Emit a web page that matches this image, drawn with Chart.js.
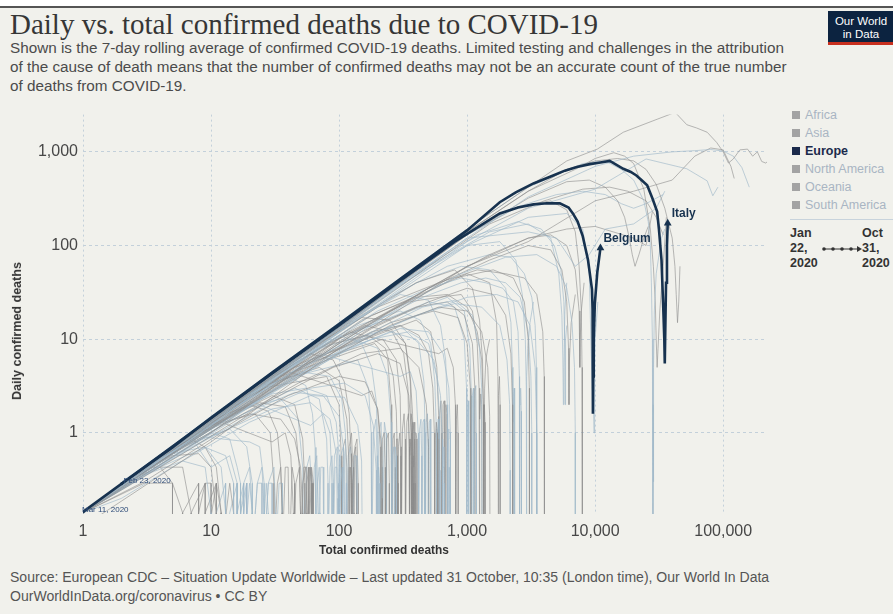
<!DOCTYPE html>
<html>
<head>
<meta charset="utf-8">
<script src="https://cdn.jsdelivr.net/npm/chart.js@4.4.1/dist/chart.umd.min.js"></script>
<style>
  body { margin: 0; width: 893px; height: 614px; background: #f1f1ec; position: relative; overflow: hidden;
         font-family: "Liberation Sans Narrow", "Liberation Sans", Arial, sans-serif; color: #444; }
  .abs { position: absolute; white-space: nowrap; }
  #topWhite { left: 0; top: 0; width: 893px; height: 6px; background: #fff; }
  #topLine { left: 0; top: 6px; width: 893px; height: 2px; background: #555; }
  #title { left: 10px; top: 6px; line-height: 36px; font-family: "Liberation Serif", "DejaVu Serif", serif; font-size: 28px; color: #363636; }
  .sub { left: 10px; font-size: 14px; line-height: 19px; color: #4b4b4b; }
  #logo { left: 828px; top: 11px; width: 66px; height: 34px; background: #0c2340; border-bottom: 3px solid #c8301f;
          color: #fff; font-size: 11.5px; line-height: 13px; text-align: center; padding-top: 4px; box-sizing: border-box; }
  #chartBox { left: 0; top: 100px; width: 780px; height: 460px; }
  #xTitle { top: 541px; line-height: 18px; font-weight: bold; font-size: 13px; color: #333; }
  #yTitle { line-height: 16px; font-weight: bold; font-size: 12px; color: #333; transform-origin: center center; }
  .leg { left: 792px; font-size: 12.5px; line-height: 18px; color: #a9b5c3; }
  .leg i { display: inline-block; width: 8px; height: 8px; background: #a3a3a3; margin-right: 5px; vertical-align: 0px; }
  .leg.on { color: #1b2a4b; font-weight: bold; }
  .leg.on i { background: #1b2a4b; }
  #sep { left: 790px; top: 219px; width: 103px; height: 1px; background: #c8d3dc; }
  .time { top: 226px; font-weight: bold; font-size: 12.5px; line-height: 15px; color: #333; }
  .foot { left: 10px; font-size: 13px; line-height: 19px; color: #555; }
</style>
</head>
<body>
<div id="topWhite" class="abs"></div>
<div id="topLine" class="abs"></div>
<div id="title" class="abs">Daily vs. total confirmed deaths due to COVID-19</div>
<div id="sub1" class="abs sub" style="top:38px">Shown is the 7-day rolling average of confirmed COVID-19 deaths. Limited testing and challenges in the attribution</div>
<div id="sub2" class="abs sub" style="top:57px">of the cause of death means that the number of confirmed deaths may not be an accurate count of the true number</div>
<div id="sub3" class="abs sub" style="top:76px">of deaths from COVID-19.</div>
<div id="logo" class="abs">Our World<br>in Data</div>

<div id="chartBox" class="abs"><canvas id="myChart"></canvas></div>
<div id="xTitle" class="abs">Total confirmed deaths</div>
<div id="yTitle" class="abs">Daily confirmed deaths</div>

<div class="abs leg" style="top:106px"><i></i>Africa</div>
<div class="abs leg" style="top:124px"><i></i>Asia</div>
<div class="abs leg on" style="top:142px"><i></i>Europe</div>
<div class="abs leg" style="top:160px"><i></i>North America</div>
<div class="abs leg" style="top:178px"><i></i>Oceania</div>
<div class="abs leg" style="top:196px"><i></i>South America</div>
<div id="sep" class="abs"></div>
<div class="abs time" style="left:790px">Jan<br>22,<br>2020</div>
<svg class="abs" style="left:822px;top:244px" width="42" height="10">
  <line x1="1" y1="5" x2="37" y2="5" stroke="#333" stroke-width="1"/>
  <circle cx="2" cy="5" r="1.8" fill="#333"/><circle cx="11" cy="5" r="1.8" fill="#333"/>
  <circle cx="20" cy="5" r="1.8" fill="#333"/><circle cx="29" cy="5" r="1.8" fill="#333"/>
  <path d="M35 2 L40 5 L35 8 Z" fill="#333"/>
</svg>
<div class="abs time" style="left:862px">Oct<br>31,<br>2020</div>

<div id="foot1" class="abs foot" style="top:568px">Source: European CDC – Situation Update Worldwide – Last updated 31 October, 10:35 (London time), Our World In Data</div>
<div id="foot2" class="abs foot" style="top:587px">OurWorldInData.org/coronavirus • CC BY</div>

<script>
// tick values
const xTicks = [1, 10, 100, 1000, 10000, 100000];
const yTicks = [1, 10, 100, 1000];

// highlighted countries: [total deaths, daily deaths (7-day avg)]
const belgium = [[1,0.143],[3,0.43],[10,1.43],[30,4.3],[100,14],[300,42],[800,110],[1800,220],[2500,255],[3300,275],[4200,283],[5300,282],[6200,255],[6700,220],[7300,180],[8000,126],[8800,70],[9450,34],[9550,21],[9600,6],[9620,1.6],[9660,4],[9750,10],[9950,24],[10400,52],[11000,94]];
const italy = [[2,0.286],[5,0.7],[10,1.45],[30,4.4],[100,14.5],[300,44],[1000,145],[1800,290],[2400,370],[3300,460],[4700,560],[5800,630],[7200,690],[9100,740],[11000,770],[13000,800],[16600,660],[19000,610],[21000,560],[23000,500],[25500,440],[28000,320],[30500,230],[31500,150],[33000,70],[34000,23],[34700,10],[35000,5.5],[35300,12],[35800,40],[36400,100],[36900,173]];

// other large countries (grey)
const unitedStates = [[1,0.14],[10,1.4],[100,14],[1000,150],[3000,420],[6000,800],[10400,1070],[16600,1620],[30500,2230],[42200,2640],[52000,1950],[62000,1800],[75000,1620],[89000,1260],[100000,1000],[110000,760],[120000,840],[135000,1050],[155000,1070],[170000,900],[185000,1000],[200000,790],[215000,760],[230000,820]];
const brazil = [[1,0.14],[10,1.3],[100,13],[1000,120],[3000,330],[10000,700],[20000,900],[40000,1000],[60000,1030],[80000,1060],[100000,1020],[120000,900],[140000,680],[160000,420]];
const india = [[1,0.1],[10,0.8],[100,8],[1000,60],[3000,110],[10000,300],[20000,380],[40000,500],[60000,900],[80000,1100],[100000,1050],[115000,700],[122000,520]];
const mexico = [[1,0.14],[10,1.2],[100,12],[1000,110],[3000,250],[10000,400],[25000,840],[52000,660],[75000,490],[83000,340],[91000,420]];
const unitedKingdom = [[1,0.14],[10,1.4],[100,14],[1000,140],[3000,380],[6000,650],[10000,800],[15000,850],[20000,800],[25000,650],[30000,450],[35000,250],[40000,120],[42000,60],[43000,30],[44000,15],[45000,25],[46000,60]];
const spain = [[1,0.14],[10,1.5],[100,15],[1000,150],[3000,420],[8000,750],[12000,800],[16000,650],[20000,500],[24000,300],[26000,180],[27000,100],[27500,40],[28000,10],[28300,1],[28300,0.05],[28400,2],[28500,0.3],[28700,5],[29000,20],[30000,50],[33000,120],[35000,150]];
const france = [[1,0.14],[10,1.3],[100,13],[1000,140],[3000,380],[7000,650],[10000,850],[14000,980],[17000,900],[20000,750],[24000,400],[27000,150],[28500,60],[29500,25],[30000,10],[30500,5],[31000,8],[32000,20],[34000,60],[36000,200]];
const iran = [[2,0.3],[10,1.4],[100,14],[1000,120],[3000,140],[5000,120],[7000,60],[9000,80],[12000,150],[20000,170],[30000,250],[35000,380]];
const russia = [[1,0.14],[10,1],[100,10],[1000,60],[3000,120],[6000,150],[10000,160],[20000,120],[25000,100],[28000,230]];
const germany = [[1,0.14],[10,1.2],[100,12],[1000,100],[3000,200],[6000,220],[8000,150],[9000,50],[9300,8],[9500,3],[9700,2],[9800,1],[9900,5],[10000,10],[10500,25]];
const peru = [[1,0.14],[150,20],[1000,130],[3000,320],[6000,480],[9000,500],[12000,420],[15000,300],[17000,200],[18500,120],[19500,80],[20500,60],[22000,80],[24000,120],[26000,160]];
const colombia = [[1,0.14],[120,16],[900,120],[2500,260],[5000,350],[8000,380],[12000,350],[16000,280],[20000,250],[25000,280],[30000,320],[34000,350]];
const argentina = [[1,0.14],[200,25],[1500,170],[4000,300],[8000,400],[13000,420],[18000,380],[25000,300],[30000,200],[32000,160],[34000,130]];

// medium countries fanning out under the diagonal (grey)
const mediumCountries = [
  [[1,0.14],[5,0.6],[20,2],[80,6],[250,14],[600,22],[1000,20],[1300,12],[1450,5],[1500,1.5],[1510,0.05]],
  [[1,0.14],[8,0.9],[40,3.5],[150,10],[400,18],[800,24],[1300,22],[1800,14],[2050,6],[2150,2],[2170,0.4],[2170,0.05]],
  [[1,0.14],[4,0.5],[15,1.4],[50,3.5],[150,7],[300,8],[420,5],[480,2],[500,0.7],[505,0.05]],
  [[2,0.29],[10,1.1],[50,4],[200,12],[500,20],[1000,28],[1700,30],[2500,25],[3100,14],[3400,5],[3500,1],[3500,0.05]],
  [[1,0.14],[6,0.6],[25,2],[90,5],[200,7],[300,5.5],[350,2.5],[370,0.9],[372,0.05]],
  [[1,0.14],[10,1],[60,5.5],[300,22],[900,50],[2000,75],[3500,80],[5000,60],[6000,35],[6600,15],[6900,5],[7000,1],[7000,0.05]],
  [[1,0.14],[3,0.3],[12,1],[40,2.5],[100,4],[160,3.5],[200,1.8],[215,0.7],[218,0.2],[218,0.05]],
  [[1,0.14],[7,0.8],[35,3.2],[160,11],[450,22],[800,26],[1100,18],[1250,8],[1300,3],[1310,0.05]],
  [[1,0.14],[15,1.6],[70,6],[250,15],[550,20],[850,17],[1000,9],[1060,3],[1070,0.6],[1070,0.05]],
  [[1,0.14],[2,0.2],[6,0.5],[20,1.3],[60,2.5],[110,2.4],[140,1.2],[150,0.5],[152,0.05]],
  [[1,0.14],[12,1.3],[100,9],[500,35],[1500,70],[3000,100],[4500,90],[5500,55],[6000,25],[6200,8],[6250,2],[6300,6],[6500,15],[7000,30]],
  [[1,0.14],[5,0.55],[30,2.7],[120,8],[300,13],[500,12],[650,7],[720,3],[740,1],[742,0.05]],
  [[1,0.14],[9,1],[45,4],[180,13],[500,25],[1000,35],[1600,30],[2000,18],[2200,7],[2260,2],[2270,0.05]],
  [[1,0.14],[3,0.35],[10,0.9],[30,1.8],[60,2.1],[85,1.4],[95,0.6],[98,0.2],[98,0.05]],
  [[1,0.14],[20,2.2],[120,11],[500,35],[1500,80],[3000,120],[4500,130],[6000,100],[7000,55],[7500,20],[7600,5],[7650,10],[7800,20],[8200,40]],
  [[1,0.14],[7,0.7],[25,1.8],[60,3],[110,3.4],[160,2.5],[185,1.2],[195,0.4],[196,0.05]],
  [[1,0.14],[40,4],[250,20],[800,45],[1600,55],[2300,45],[2800,25],[3000,10],[3060,3],[3070,0.05]],
  [[2,0.29],[14,1.5],[60,5],[180,10],[350,12],[500,9],[580,4],[610,1.5],[615,0.4],[615,0.05]],
  [[1,0.14],[30,3],[150,12],[400,22],[700,25],[950,18],[1100,9],[1150,3],[1160,0.05]],
  [[1,0.14],[4,0.45],[18,1.6],[45,2.7],[75,2.5],[100,1.5],[110,0.6],[112,0.05]],
  [[1,0.14],[2,0.29],[5,0.57],[8,0.6],[10,0.43],[11,0.14],[11,0.05]],
  [[1,0.14],[25,2.6],[150,13],[450,28],[900,40],[1400,45],[2000,40],[2600,28],[3000,12],[3150,4],[3200,1],[3200,0.05]]
];

// smaller countries with zero-death days (grey)
const smallCountries = [
  [[1,0.14],[2,0.29],[4,0.57],[7,0.86],[9,0.7],[11,0.43],[12,0.14],[12,0.05]],
  [[1,0.14],[3,0.43],[6,0.71],[10,1],[14,0.86],[16,0.43],[17,0.29],[17,0.05],[18,0.14],[19,0.29],[19,0.05]],
  [[1,0.14],[5,0.71],[12,1.5],[20,2],[28,1.7],[33,1],[35,0.43],[36,0.14],[36,0.05]],
  [[2,0.29],[8,1.1],[20,2.6],[40,4],[55,3.2],[62,1.6],[65,0.7],[66,0.29],[66,0.05],[68,0.29],[70,0.43],[71,0.14],[71,0.05]],
  [[1,0.14],[6,0.86],[25,3.3],[60,7],[90,6],[110,3.5],[120,1.6],[124,0.6],[125,0.14],[125,0.05],[127,0.29],[130,0.43],[131,0.14],[131,0.05]],
  [[1,0.14],[10,1.4],[40,5],[100,11],[150,9],[180,5],[195,2.2],[200,0.86],[202,0.29],[202,0.05],[205,0.43],[208,0.29],[208,0.05]],
  [[3,0.43],[15,2],[60,8],[150,17],[250,16],[330,9],[360,4],[375,1.6],[380,0.57],[381,0.05],[384,0.43],[390,0.86],[393,0.29],[393,0.05]],
  [[1,0.14],[20,2.8],[100,13],[300,30],[500,26],[620,14],[680,6],[700,2],[705,0.7],[706,0.05],[712,0.86],[720,1.1],[724,0.43],[725,0.05]],
  [[1,0.14],[30,4],[150,18],[400,40],[800,55],[1100,35],[1250,16],[1320,6],[1340,2],[1345,0.43],[1345,0.05],[1352,1],[1365,2],[1380,1.3],[1385,0.05]],
  [[2,0.29],[50,6.5],[300,38],[1000,100],[1800,110],[2400,70],[2700,30],[2850,10],[2900,3],[2910,0.05],[2930,4],[2980,8],[3100,15],[3300,25]],
  [[1,0.14],[7,1],[30,3.4],[70,5],[100,3.6],[115,1.4],[120,0.43],[120,0.05],[123,0.43],[126,0.29],[126,0.05],[130,0.57],[135,0.71],[137,0.14],[137,0.05]],
  [[1,0.14],[4,0.43],[9,0.7],[13,0.57],[15,0.29],[15,0.05],[16,0.14],[18,0.29],[18,0.05],[20,0.29],[21,0.14],[21,0.05]],
  [[2,0.29],[10,1.2],[30,2.5],[45,2],[52,0.86],[54,0.29],[54,0.05],[56,0.29],[58,0.43],[58,0.05],[61,0.43],[63,0.29],[63,0.05]],
  [[1,0.14],[15,1.8],[60,6],[130,10],[200,8],[240,4],[255,1.3],[258,0.43],[258,0.05],[262,0.57],[268,0.71],[270,0.14],[270,0.05],[275,0.71],[280,0.57],[281,0.05]],
  [[1,0.14],[25,3],[120,12],[350,25],[600,28],[900,30],[1100,20],[1200,9],[1240,3],[1250,0.7],[1250,0.05],[1260,1.4],[1280,2.6],[1300,2],[1310,0.05]],
  [[1,0.14],[50,6],[250,28],[700,60],[1500,80],[2200,75],[2800,50],[3200,28],[3400,14],[3480,5],[3500,1.4],[3500,0.05]],
  [[1,0.14],[100,14],[1000,130],[2500,260],[4500,300],[6000,240],[7000,140],[7500,60],[7800,20],[7900,5],[7950,0.05]],
  [[1,0.14],[80,10],[500,60],[1500,140],[3000,170],[4500,120],[5200,50],[5500,18],[5600,6],[5650,2],[5700,5],[5800,20],[6000,40]],
  [[1,0.14],[30,4],[200,22],[600,40],[1200,55],[2000,50],[2800,45],[3500,30],[3900,12],[4000,4],[4020,0.43],[4020,0.05]],
  [[1,0.14],[10,1.3],[50,5],[120,8],[250,12],[400,10],[550,6],[620,2.5],[640,0.86],[645,0.29],[645,0.05],[650,0.43],[660,0.71],[665,0.29],[665,0.05]],
  [[1,0.14],[8,1],[20,1.6],[35,1.4],[45,0.86],[50,0.43],[52,0.14],[52,0.05]],
  [[2,0.29],[6,0.5],[9,0.43],[10,0.14],[10,0.05],[11,0.14],[13,0.29],[13,0.05]],
  [[1,0.14],[20,2.5],[80,7],[180,12],[300,14],[420,11],[500,7],[540,3],[555,1],[558,0.29],[558,0.05],[565,0.86],[575,1.3],[585,1],[588,0.05]],
  [[1,0.14],[40,5],[200,20],[500,35],[900,45],[1400,40],[1900,35],[2300,25],[2500,12],[2560,4],[2570,0.86],[2570,0.05],[2590,2],[2620,3],[2650,1.7],[2660,0.05]],
  [[1,0.14],[3,0.29],[5,0.29],[6,0.14],[6,0.05],[7,0.14],[9,0.29],[10,0.29],[10,0.05]],
  [[1,0.14],[12,1.4],[30,2.6],[55,3],[80,2.5],[95,1.3],[100,0.57],[101,0.14],[101,0.05],[103,0.29],[106,0.43],[107,0.05]],
  [[1,0.14],[18,2.4],[70,8],[160,14],[260,12],[320,7],[345,3],[352,0.86],[354,0.05],[358,0.57],[364,0.86],[368,0.43],[370,0.05],[374,0.57],[380,0.29],[381,0.05]],
  [[1,0.14],[60,8],[350,45],[1200,130],[2500,180],[3800,150],[4800,100],[5400,55],[5700,25],[5800,8],[5830,2],[5850,4],[5900,10],[6000,14]],
  [[1,0.14],[40,5],[180,18],[400,28],[700,30],[1000,22],[1200,12],[1300,6],[1340,2],[1350,0.57],[1350,0.05],[1370,3],[1400,6],[1450,8],[1500,10]],
  [[1,0.14],[90,11],[400,40],[900,60],[1500,55],[2000,35],[2200,15],[2260,5],[2280,1.3],[2285,0.05],[2300,2],[2330,3],[2350,1],[2355,0.05]],
  [[2,0.29],[4,0.43],[5,0.29],[5,0.05],[6,0.14],[8,0.29],[8,0.05],[9,0.14],[11,0.29],[11,0.05]],
  [[1,0.14],[6,0.71],[14,1.1],[19,0.71],[21,0.29],[21,0.05],[23,0.29],[25,0.43],[26,0.14],[26,0.05],[28,0.29],[30,0.29],[30,0.05]],
  [[1,0.14],[9,1.1],[24,2.1],[38,1.9],[46,1],[49,0.43],[50,0.14],[50,0.05],[52,0.29],[55,0.43],[56,0.14],[56,0.05],[59,0.43],[61,0.29],[61,0.05]],
  [[1,0.14],[16,2],[50,4.5],[85,4],[105,2.3],[112,1],[114,0.29],[114,0.05],[118,0.57],[123,0.71],[126,0.43],[127,0.05],[131,0.57],[136,0.57],[138,0.05]],
  [[1,0.14],[22,2.8],[90,9],[170,11],[230,8],[265,4],[280,1.7],[285,0.57],[286,0.05],[291,0.71],[298,1],[303,0.57],[304,0.05]],
  [[1,0.14],[35,4.3],[140,14],[300,20],[430,16],[520,9],[560,3.5],[575,1.1],[578,0.29],[578,0.05],[585,1],[595,1.4],[602,0.86],[604,0.05]],
  [[1,0.14],[3,0.43],[6,0.43],[7,0.14],[7,0.05],[8,0.14],[9,0.29],[9,0.05],[11,0.29],[12,0.14],[12,0.05],[14,0.29],[15,0.14],[15,0.05]],
  [[1,0.14],[7,0.9],[10,0.43],[14,0.57],[16,0.29],[16,0.05],[18,0.29],[20,0.43],[21,0.14],[21,0.05],[23,0.29],[25,0.29],[25,0.05],[27,0.29],[28,0.14],[28,0.05]],
  [[1,0.14],[12,1.3],[30,0.8],[38,1],[42,0.57],[44,0.14],[44,0.05],[46,0.29],[49,0.43],[50,0.14],[50,0.05],[53,0.43],[56,0.43],[57,0.05],[60,0.43],[62,0.29],[62,0.05]],
  [[1,0.14],[20,2.2],[60,1.2],[75,1.6],[85,1],[88,0.29],[88,0.05],[92,0.57],[97,0.71],[99,0.29],[99,0.05],[103,0.57],[108,0.71],[110,0.14],[110,0.05]],
  [[1,0.14],[40,4.5],[150,2.5],[180,2.8],[200,1.8],[210,0.71],[212,0.05],[218,0.86],[225,1],[229,0.43],[230,0.05],[236,0.86],[243,1],[247,0.29],[247,0.05]],
  [[1,0.14],[70,7],[300,4],[360,4.5],[400,2.8],[415,1],[418,0.05],[426,1.1],[436,1.4],[442,0.57],[443,0.05],[452,1.3],[462,1.4],[466,0.29],[466,0.05]],
  [[1,0.14],[120,12],[600,7],[700,8],[780,5],[810,2],[815,0.4],[815,0.05],[825,1.4],[840,2],[850,1],[852,0.05]],
  [[1,0.14],[9,0.9],[20,0.8],[24,0.71],[26,0.29],[26,0.05],[28,0.29],[31,0.43],[32,0.14],[32,0.05],[34,0.29],[36,0.29],[36,0.05]],
  [[1,0.14],[25,3],[80,4],[100,2],[104,0.57],[105,0.05],[108,0.71],[112,0.86],[115,0.43],[116,0.05],[120,0.71],[125,1],[128,0.43],[129,0.05],[133,0.71],[138,0.86],[141,0.29],[141,0.05]],
  [[1,0.14],[30,3.5],[140,6],[170,3],[178,1],[180,0.29],[180,0.05],[186,1],[194,1.4],[198,0.57],[199,0.05],[205,1],[213,1.3],[217,0.43],[218,0.05],[226,1.3],[233,1],[235,0.05]],
  [[1,0.14],[45,5],[220,10],[280,6],[300,2.5],[305,0.71],[306,0.05],[313,1.1],[322,1.6],[328,0.86],[330,0.05],[338,1.3],[348,1.6],[354,0.71],[355,0.05],[365,1.6],[374,1.3],[377,0.05]],
  [[1,0.14],[15,1.7],[35,2.3],[48,1.4],[52,0.43],[53,0.05],[56,0.43],[59,0.57],[61,0.29],[61,0.05],[64,0.43],[67,0.57],[69,0.14],[69,0.05],[72,0.43],[75,0.43],[76,0.05]],
  [[1,0.14],[60,6],[400,16],[520,12],[580,5],[600,1.5],[602,0.05],[612,1.6],[625,2.2],[633,1],[635,0.05],[648,2],[662,2.2],[670,0.86],[671,0.05],[684,2],[697,1.6],[700,0.05]],
  [[1,0.14],[90,10],[700,28],[950,20],[1050,8],[1080,2.5],[1085,0.05],[1100,2.5],[1120,3],[1130,1.3],[1132,0.05],[1150,2.8],[1170,3.2],[1180,1],[1182,0.05]],
  [[1,0.14],[10,1.2],[22,1.6],[29,1],[31,0.29],[31,0.05],[33,0.29],[35,0.43],[36,0.14],[36,0.05],[38,0.43],[40,0.43],[41,0.05],[43,0.43],[45,0.29],[45,0.05]],
  [[1,0.14],[5,0.6],[9,0.71],[12,0.43],[13,0.14],[13,0.05],[14,0.14],[16,0.29],[16,0.05],[17,0.14],[19,0.29],[19,0.05]],
  [[1,0.14],[35,4],[190,9],[240,6],[255,2],[258,0.57],[258,0.05],[264,0.86],[270,1],[274,0.43],[275,0.05],[281,0.86],[287,0.86],[290,0.29],[290,0.05]],
  [[1,0.14],[70,8],[300,14],[420,9],[460,3.5],[470,1],[472,0.05],[480,1.3],[490,1.6],[497,0.86],[498,0.05],[507,1.3],[516,1.4],[521,0.43],[521,0.05]],
  [[1,0.14],[150,16],[1000,50],[1500,40],[1700,15],[1740,4],[1750,0.86],[1750,0.05],[1765,2.5],[1790,4],[1810,2],[1812,0.05]],
  [[1,0.14],[12,1.2],[45,3],[70,2.3],[80,0.86],[82,0.29],[82,0.05],[85,0.43],[88,0.57],[90,0.29],[90,0.05],[93,0.43],[96,0.43],[97,0.05]],
  [[1,0.14],[50,5.5],[250,13],[330,9],[360,3.5],[368,1],[370,0.29],[370,0.05],[377,1],[385,1.3],[390,0.57],[391,0.05],[398,1],[405,0.86],[406,0.05]],
  [[1,0.14],[80,9],[500,25],[800,22],[950,10],[990,3],[995,0.71],[995,0.05],[1005,1.4],[1020,2.2],[1030,1],[1032,0.05]]
];

const navy = '#17324f';
const greys = ['rgba(140,140,140,0.6)', 'rgba(160,184,202,0.65)'];

const toXY = pts => pts.map(p => ({ x: p[0], y: p[1] }));

const highlight = (label, pts) => ({
  label,
  data: toXY(pts),
  borderColor: navy,
  backgroundColor: navy,
  borderWidth: 2.6,
  pointStyle: ctx => ctx.dataIndex === 0 ? 'circle' : 'triangle',
  pointRadius: ctx => ctx.dataIndex === pts.length - 1 ? 4.5 : (ctx.dataIndex === 0 ? 1.5 : 0),
  pointBorderWidth: 0
});

const bigGrey = [unitedStates, brazil, india, mexico, unitedKingdom, spain, france, iran, russia, germany, peru, colombia, argentina];
const greyLine = (pts, i) => ({
  data: toXY(pts),
  borderColor: greys[i % 2],
  borderWidth: 1,
  pointRadius: 0
});

const datasets = [
  highlight('Belgium', belgium),
  highlight('Italy', italy)
].concat(bigGrey.map(greyLine), mediumCountries.map(greyLine), smallCountries.map(greyLine));

const labelPlugin = {
  id: 'countryLabels',
  afterDatasetsDraw(chart) {
    const { ctx, scales: { x, y } } = chart;
    const px = p => [x.getPixelForValue(p[0]), y.getPixelForValue(p[1])];
    ctx.save();
    ctx.fillStyle = navy;
    ctx.textBaseline = 'middle';
    ctx.font = 'bold 12px "Liberation Sans", Arial, sans-serif';
    let [bx, by] = px(belgium[belgium.length - 1]);
    ctx.fillText('Belgium', bx + 3, by - 9);
    let [ix, iy] = px(italy[italy.length - 1]);
    ctx.fillText('Italy', ix + 4, iy - 10);
    ctx.font = '8px "Liberation Sans", Arial, sans-serif';
    ctx.fillStyle = '#2d4b78';
    let [sx, sy] = px(belgium[0]);
    ctx.fillText('Mar 11, 2020', sx - 1, sy - 2);
    let [tx, ty] = px(italy[0]);
    ctx.fillText('Feb 23, 2020', tx + 2, ty - 3);
    ctx.restore();
  }
};

const ctx = document.getElementById('myChart').getContext('2d');
const chart = new Chart(ctx, {
  type: 'scatter',
  data: { datasets },
  plugins: [labelPlugin],
  options: {
    responsive: true,
    maintainAspectRatio: false,
    animation: false,
    showLine: true,
    layout: { padding: { top: 10, right: 13, left: 0, bottom: 0 } },
    plugins: { legend: { display: false }, tooltip: { enabled: false } },
    scales: {
      x: {
        type: 'logarithmic',
        min: 1,
        max: 220000,
        afterBuildTicks: s => { s.ticks = xTicks.map(v => ({ value: v })); },
        afterFit: s => { s.height = 46; },
        ticks: {
          autoSkip: false, maxRotation: 0, padding: 8,
          color: '#474747',
          font: { size: 16, family: '"Liberation Sans", Arial, sans-serif' },
          callback: v => Number(v).toLocaleString('en-US')
        },
        grid: { color: '#c3d0da', lineWidth: 1, drawTicks: false },
        border: { display: false, dash: [2, 3] }
      },
      y: {
        type: 'logarithmic',
        min: 0.136,
        max: 2500,
        afterBuildTicks: s => { s.ticks = yTicks.map(v => ({ value: v })); },
        afterFit: s => { s.width = 83; },
        ticks: {
          autoSkip: false, padding: 5,
          color: '#474747',
          font: { size: 16, family: '"Liberation Sans", Arial, sans-serif' },
          callback: v => Number(v).toLocaleString('en-US')
        },
        grid: { color: '#c3d0da', lineWidth: 1, drawTicks: false },
        border: { display: false, dash: [3, 3] }
      }
    }
  }
});

// size text blocks to the widths seen in the reference
function fitWidth(id, target) {
  const el = document.getElementById(id);
  const size = parseFloat(getComputedStyle(el).fontSize);
  el.style.fontSize = (size * target / el.getBoundingClientRect().width) + 'px';
  return parseFloat(el.style.fontSize);
}
fitWidth('title', 588);
const subSize = fitWidth('sub1', 775);
document.getElementById('sub2').style.fontSize = subSize + 'px';
document.getElementById('sub3').style.fontSize = subSize + 'px';
const footSize = fitWidth('foot1', 760);
document.getElementById('foot2').style.fontSize = footSize + 'px';
fitWidth('xTitle', 130);
const xt = document.getElementById('xTitle');
xt.style.left = (384 - xt.getBoundingClientRect().width / 2) + 'px';
fitWidth('yTitle', 138);
const yt = document.getElementById('yTitle');
const yw = yt.getBoundingClientRect().width;
yt.style.left = (17 - yw / 2) + 'px';
yt.style.top = (331 - 8) + 'px';
yt.style.transform = 'rotate(-90deg)';
</script>
</body>
</html>
